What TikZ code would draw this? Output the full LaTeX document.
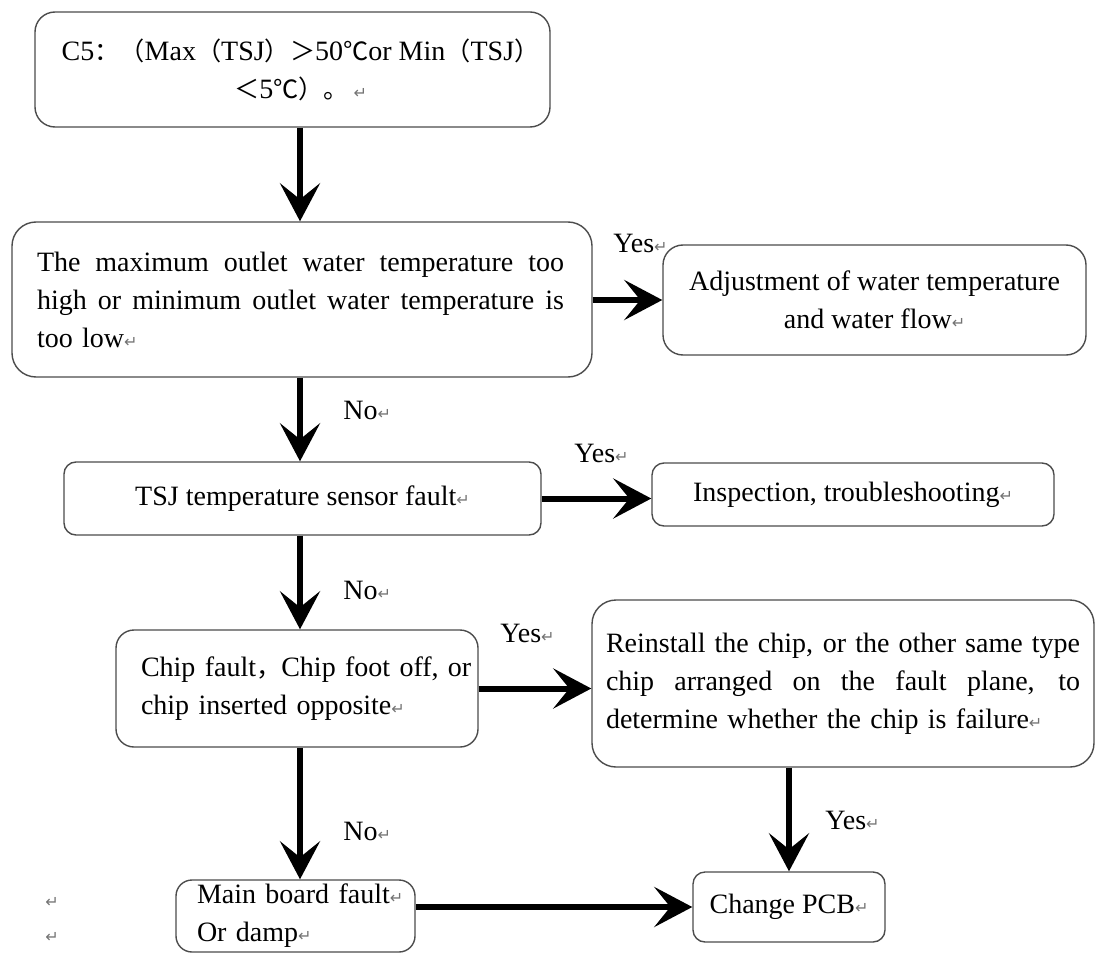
\documentclass[tikz,border=0pt]{standalone}
\usepackage{fontspec}
\setmainfont{Liberation Serif}
\newfontfamily\cjk[Scale=0.9]{Noto Sans CJK SC}
\newfontfamily\dejavu{DejaVu Sans}
\usetikzlibrary{arrows.meta}
\newcommand{\cj}[1]{{\cjk #1}}
\newcommand{\pmark}{{\dejavu\fontsize{8}{8}\selectfont\textcolor{black!55}{↵}}}
\newcommand{\spread}[2]{\leavevmode\hbox to #1{\spaceskip=0.25em plus 1fil\relax #2}}

\begin{document}
\begin{tikzpicture}
    [x=0.5pt, y=-0.5pt, box/.style={rectangle, draw=black!70, line width=0.7pt, inner ysep=0pt, font=\fontsize{14}{19}\selectfont},
    lbl/.style={anchor=west, inner sep=0pt, font=\fontsize{14}{19}\selectfont},
    flow/.style={line width=3pt, -{Stealth[length=19pt, width=20pt, inset=8pt]}}]
    \useasboundingbox (0,0) rectangle (1096,952);
    \coordinate (spine) at (300,0);
    \node[box, rounded corners=10pt, minimum width=257.5pt, minimum height=57.5pt, align=center] (c5) at (292.5,69.5)
        {\hspace*{8pt}C5\cj{：（}Max\cj{（}TSJ\cj{）＞}50\cj{℃}or Min\cj{（}TSJ\cj{）}\\ \hspace*{8pt}\cj{＜}5\cj{℃）。}\,\pmark};
    \node[box, rounded corners=12pt, minimum width=290pt, minimum height=77.5pt, text width=265pt, inner xsep=12.5pt, align=left] (temp) at (302,299.5)
        {\spread{263.5pt}{The maximum outlet water temperature too}\\
         \spread{263.5pt}{high or minimum outlet water temperature is}\\
         too low\pmark};
    \node[box, rounded corners=10pt, minimum width=211.5pt, minimum height=55pt, align=center] (adjust) at (874.5,300)
        {Adjustment of water temperature\\ and water flow\pmark};
    \node[box, rounded corners=6pt, minimum width=238.5pt, minimum height=36.5pt] (sensor) at (302.5,498.5)
        {TSJ temperature sensor fault\pmark};
    \node[box, rounded corners=6pt, minimum width=201pt, minimum height=31.5pt] (inspect) at (853,494.5)
        {Inspection, troubleshooting\pmark};
    \node[box, rounded corners=9pt, minimum width=181pt, minimum height=58.5pt, text width=156pt, inner xsep=12.5pt, align=left] (chip) at (297,688.5)
        {\mbox{Chip fault\cj{，}Chip foot off, or}\\ \mbox{chip inserted opposite\pmark}};
    \node[box, rounded corners=12pt, minimum width=251pt, minimum height=83.5pt, text width=237pt, inner xsep=7pt, align=left] (reinstall) at (843,683.5)
        {\spread{237pt}{Reinstall the chip, or the other same type}\\
         \spread{237pt}{chip arranged on the fault plane, to}\\
         \mbox{determine whether the chip is failure\pmark}};
    \node[box, rounded corners=8pt, minimum width=119.5pt, minimum height=36pt, text width=98.5pt, inner xsep=10.5pt, align=left] (board) at (295.5,916)
        {\mbox{Main board fault\pmark}\\ \mbox{Or damp\pmark}};
    \node[box, rounded corners=6pt, minimum width=96pt, minimum height=35pt] (pcb) at (789,907)
        {Change PCB\pmark};
    \node[lbl] (yes1) at (613,243) {Yes\pmark};
    \node[lbl] (yes2) at (574,453) {Yes\pmark};
    \node[lbl] (yes3) at (500,633) {Yes\pmark};
    \node[lbl] (yes4) at (825,820) {Yes\pmark};
    \node[lbl] (no1) at (343,410) {No\pmark};
    \node[lbl] (no2) at (343,590) {No\pmark};
    \node[lbl] (no3) at (343,831) {No\pmark};
    \node[lbl] (mark1) at (45,902) {\pmark};
    \node[lbl] (mark2) at (45,937) {\pmark};
    \draw[flow] (c5.south -| spine) -- (temp.north -| spine);
    \draw[flow] (temp.south -| spine) -- (sensor.north -| spine);
    \draw[flow] (sensor.south -| spine) -- (chip.north -| spine);
    \draw[flow] (chip.south -| spine) -- (board.north -| spine);
    \draw[flow] (temp.east |- adjust.west) -- (adjust.west);
    \draw[flow] (sensor.east) -- (sensor.east -| inspect.west);
    \draw[flow] (chip.east) -- (chip.east -| reinstall.west);
    \draw[flow] (reinstall.south -| pcb.north) -- (pcb.north);
    \draw[flow] (board.east |- pcb.west) -- (pcb.west);
\end{tikzpicture}
\end{document}
